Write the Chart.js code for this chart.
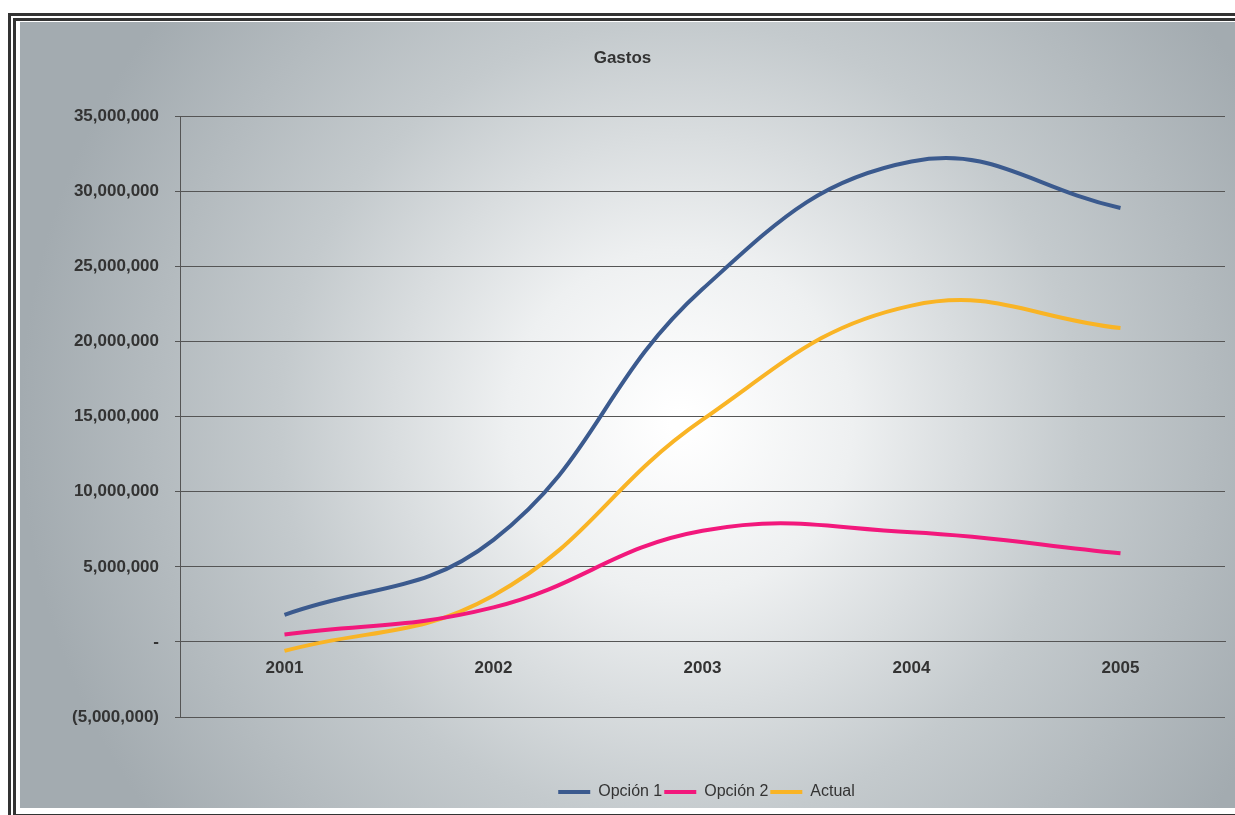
<!DOCTYPE html>
<html>
<head>
<meta charset="utf-8">
<script src="https://cdn.jsdelivr.net/npm/chart.js@4.4.0/dist/chart.umd.min.js"></script>
<style>
html,body{margin:0;padding:0;background:#fff;width:1235px;height:815px;overflow:hidden;}
#frame{position:absolute;left:8px;top:13px;width:1240px;height:793px;border:8px double #333;box-sizing:content-box;}
#wrap{position:absolute;left:20px;top:22px;width:1215px;height:786px;}
</style>
</head>
<body>
<div id="frame"></div>
<div id="wrap"><canvas id="c" width="1215" height="786"></canvas></div>
<script>
const categories = ['2001','2002','2003','2004','2005'];
const opcion1 = [1800000, 6800000, 23500000, 32000000, 28900000];
const opcion2 = [500000, 2300000, 7400000, 7300000, 5900000];
const actual = [-600000, 3100000, 14800000, 22400000, 20900000];
const seriesNames = ['Opción 1', 'Opción 2', 'Actual'];
const titleText = 'Gastos';

const bgPlugin = {
  id: 'bg',
  beforeDraw(chart) {
    const ctx = chart.ctx;
    const w = chart.width, h = chart.height;
    ctx.save();
    const g = ctx.createRadialGradient(660, 400, 10, 660, 400, 660);
    g.addColorStop(0, '#ffffff');
    g.addColorStop(0.25, '#eef0f1');
    g.addColorStop(0.6, '#c4cacd');
    g.addColorStop(1, '#a3abb0');
    ctx.fillStyle = g;
    ctx.fillRect(0, 0, w, h);
    ctx.restore();
  }
};

const legendShift = {
  id: 'legendShift',
  afterLayout(chart) {
    const lg = chart.legend;
    if (lg) {
      lg.left += 84;
      lg.right += 84;
      if (lg.legendHitBoxes) lg.legendHitBoxes.forEach(b => { b.left += 84; });
    }
  }
};

function fmt(v) {
  if (v === 0) return '-';
  const s = Math.abs(v).toLocaleString('en-US');
  return v < 0 ? '(' + s + ')' : s;
}

const FONT = 'Liberation Sans';

new Chart(document.getElementById('c'), {
  type: 'line',
  data: {
    labels: categories,
    datasets: [
      {label: seriesNames[0], data: opcion1, borderColor: '#3b5a8e', backgroundColor: '#3b5a8e', borderWidth: 4, pointRadius: 0, tension: 0.42},
      {label: seriesNames[1], data: opcion2, borderColor: '#f2187c', backgroundColor: '#f2187c', borderWidth: 4, pointRadius: 0, tension: 0.42},
      {label: seriesNames[2], data: actual, borderColor: '#f9b425', backgroundColor: '#f9b425', borderWidth: 4, pointRadius: 0, tension: 0.42}
    ]
  },
  options: {
    responsive: false,
    animation: false,
    layout: {padding: {left: 0, right: 10, top: 0, bottom: -2}},
    plugins: {
      title: {display: true, text: titleText, color: '#333', font: {family: FONT, size: 17, weight: 'bold'}, padding: {top: 26, bottom: 48}},
      legend: {
        position: 'bottom',
        labels: {usePointStyle: true, pointStyle: 'line', pointStyleWidth: 32, boxHeight: 4, padding: 2, color: '#333', font: {family: FONT, size: 16}}
      },
      tooltip: {enabled: false}
    },
    scales: {
      x: {
        position: {y: 0},
        offset: true,
        grid: {display: false},
        border: {display: true, color: '#555', width: 1},
        ticks: {color: '#333', padding: 8, font: {family: FONT, size: 17, weight: 'bold'}, maxRotation: 0}
      },
      xpad: {
        type: 'category',
        position: 'bottom',
        grid: {display: false},
        border: {display: false},
        ticks: {display: false},
        afterFit(s) { s.height = 65; }
      },
      y: {
        min: -5000000, max: 35000000,
        afterFit(s) { s.width = 160; },
        ticks: {stepSize: 5000000, callback: fmt, color: '#333', padding: 16, font: {family: FONT, size: 17, weight: 'bold'}},
        grid: {color: '#555', lineWidth: 1, drawTicks: true, tickLength: 5},
        border: {display: true, color: '#555', width: 1}
      }
    }
  },
  plugins: [bgPlugin, legendShift]
});
</script>
</body>
</html>
